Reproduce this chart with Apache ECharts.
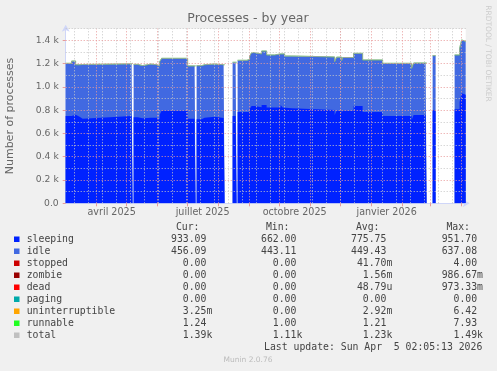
<!DOCTYPE html>
<html><head><meta charset="utf-8">
<script src="https://cdn.jsdelivr.net/npm/echarts@6/dist/echarts.min.js"></script>
<style>html,body{margin:0;padding:0;background:#f0f0f0}#c{width:497px;height:371px}</style>
</head><body><div id="c"></div>
<script>
// ---------- data ----------
const dates = [
 '2025-03-01','2025-03-07','2025-03-11','2025-03-15','2025-03-18','2025-04-14','2025-05-06','2025-05-07',
 '2025-05-08','2025-05-12','2025-05-14','2025-05-17','2025-05-22','2025-05-25','2025-05-31','2025-06-03',
 '2025-06-05','2025-07-01','2025-07-08','2025-07-09',
 '2025-07-10','2025-07-15','2025-07-18','2025-07-28','2025-08-06','2025-08-07',
 '2025-08-15','2025-08-18','2025-08-19',
 '2025-08-20','2025-08-29','2025-09-01','2025-09-03','2025-09-06','2025-09-13','2025-09-18','2025-09-26',
 '2025-10-02','2025-10-04','2025-10-06','2025-10-13','2025-11-25','2025-11-27','2025-12-02','2025-12-03',
 '2025-12-14','2025-12-23','2026-01-12','2026-02-10','2026-02-12','2026-02-24','2026-02-25',
 '2026-03-03','2026-03-05','2026-03-06',
 '2026-03-25','2026-03-30','2026-04-01','2026-04-03','2026-04-05 02:05:13'
];
const sleeping = [
 750,761,744,727,739,750,750,null,
 739,739,730,733,735,735,724,760,
 795,727,727,null,
 721,735,744,733,733,null,
 750,750,null,
 784,784,810,836,824,844,822,822,
 844,822,816,801,758,795,773,795,
 836,785,750,715,758,758,null,
 800,800,null,
 807,870,945,933,933
];
const idle = [
 451,460,445,464,455,447,451,null,
 453,443,452,456,460,454,455,454,
 449,452,452,null,
 460,454,451,456,456,null,
 460,460,null,
 443,450,454,457,458,463,451,460,
 455,460,448,455,457,459,451,456,
 451,445,451,443,446,446,null,
 467,467,null,
 466,459,457,456,456
];
const runnable = [
 1.2,1.2,1.2,1.2,1.2,1.2,1.2,null,
 1.2,1.2,1.2,1.2,1.2,1.2,1.2,1.2,
 1.2,1.2,1.2,null,
 1.2,1.2,1.2,1.2,1.2,null,
 1.2,1.2,null,
 1.2,1.2,1.2,1.2,1.2,1.2,1.2,1.2,
 1.2,1.2,1.2,1.2,1.2,1.2,1.2,1.2,
 1.2,1.2,1.2,1.2,1.2,1.2,null,
 1.2,1.2,null,
 1.2,1.2,1.2,1.2,1.24
];
const xTickDates  = ['2025-04-16','2025-07-16','2025-10-16','2026-01-16'];
const xTickLabels = ['avril 2025','juillet 2025','octobre 2025','janvier 2026'];
const yTickValues = [0,200,400,600,800,1000,1200,1400];
const yTickLabels = ['0.0','0.2 k','0.4 k','0.6 k','0.8 k','1.0 k','1.2 k','1.4 k'];
const rangeStart = '2025-03-01 02:05:13';
const rangeEnd   = '2026-04-05 02:05:13';

const legendNames  = ['sleeping','idle','stopped','zombie','dead','paging','uninterruptible','runnable','total'];
const legendColors = ['#0022ff','#4169e1','#cc0000','#990000','#ff0000','#00aaaa','#ffa500','#22ff22','#c0c0c0'];
const curVals = ['933.09','456.09','0.00','0.00','0.00','0.00','3.25m','1.24','1.39k'];
const minVals = ['662.00','443.11','0.00','0.00','0.00','0.00','0.00','1.00','1.11k'];
const avgVals = ['775.75','449.43','41.70m','1.56m','48.79u','0.00','2.92m','1.21','1.23k'];
const maxVals = ['951.70','637.08','4.00','986.67m','973.33m','0.00','6.42','7.93','1.49k'];
const colHeaders = ['Cur:','Min:','Avg:','Max:'];
const titleText = 'Processes - by year';
const yName = 'Number of processes';
const sideText = 'RRDTOOL / TOBI OETIKER';
const lastUpdate = 'Last update: Sun Apr  5 02:05:13 2026';
const versionText = 'Munin 2.0.76';

// ---------- helpers ----------
function ts(s){
  const m = s.match(/(\d+)-(\d+)-(\d+)(?:[ T](\d+):(\d+)(?::(\d+))?)?/);
  return new Date(+m[1], +m[2]-1, +m[3], +(m[4]||0), +(m[5]||0), +(m[6]||0)).getTime();
}
const X = dates.map(ts);
const pair = arr => arr.map((v,i)=>[X[i], v]);
// cumulative (stacked) tops, drawn back-to-front
const cumIdle = sleeping.map((s,i)=> s==null ? null : s + idle[i]);
const total = sleeping.map((s,i)=> s==null ? null : s + idle[i] + runnable[i]);
const tStart = ts(rangeStart), tEnd = ts(rangeEnd);
const xTickTs = xTickDates.map(ts);

// grid lines: month starts (major), every second monday (minor)
const monthStarts = [];
for (let d = new Date(2025,3,1); d.getTime() <= tEnd; d = new Date(d.getFullYear(), d.getMonth()+1, 1)) monthStarts.push(d.getTime());
const minorDays = [];
for (let d = new Date(2025,2,10); d.getTime() <= tEnd; d = new Date(d.getFullYear(), d.getMonth(), d.getDate()+14)) minorDays.push(d.getTime());
const MAJ = '#e89a9a', MIN = '#c6c6c6';
const gridData = [];
minorDays.forEach(t=>gridData.push({xAxis:t, lineStyle:{color:MIN}}));
monthStarts.forEach(t=>gridData.push({xAxis:t, lineStyle:{color:MAJ}}));
for (let v=100; v<=1500; v+=100) { if (v%200) gridData.push({yAxis:v, lineStyle:{color:MIN}}); else gridData.push({yAxis:v, lineStyle:{color:MAJ}}); }

// ---------- legend table ----------
const FONT = '"DejaVu Sans", sans-serif';
const MONO = '9.8px "DejaVu Sans Mono", monospace';
const CW = 5.9;
const TXT = '#444';
const colEdge = [212.3, 302.3, 392.3, 483];
const hdrEdge = [199.5, 289.5, 379.5, 470];
const cols = [curVals, minVals, avgVals, maxVals];
const graphics = [];
function txt(x,y,text,font,fill,align,extra){
  graphics.push(Object.assign({type:'text', x:x, y:y, silent:true,
    style:{text:text, font:font, fill:fill, align:align, textAlign:align, verticalAlign:'middle', textVerticalAlign:'middle'}}, extra||{}));
}
txt(248, 19, titleText, '12.5px '+FONT, '#666', 'center');
txt(488, 53.5, sideText, '7.5px '+FONT, '#cccccc', 'center', {rotation:-Math.PI/2});
txt(10, 116, yName, '11px '+FONT, '#666', 'center', {rotation:Math.PI/2});
colHeaders.forEach((h,j)=>txt(hdrEdge[j], 227.7, h, MONO, TXT, 'right'));
legendNames.forEach((n,i)=>{
  const y = 239.3 + 12*i;
  graphics.push({type:'rect', silent:true, shape:{x:14, y:y-2.8, width:5.5, height:5.5}, style:{fill:legendColors[i]}});
  txt(26.7, y, n, MONO, TXT, 'left');
  cols.forEach((c,j)=>{
    const s = c[i];
    const hasUnit = /[a-zA-Z]$/.test(s);
    txt(colEdge[j] - (hasUnit?0:CW), y, s, MONO, TXT, 'right');
  });
});
txt(482.3, 347.3, lastUpdate, MONO, TXT, 'right');
txt(248, 359.7, versionText, '7.5px '+FONT, '#bbbbbb', 'center');

// ---------- chart ----------
const chart = echarts.init(document.getElementById('c'), null, {renderer:'canvas'});
const areaSeries = (name, data, color, z) => ({
  name, type:'line', step:'end', data:pair(data), symbol:'none', showSymbol:false,
  connectNulls:false, lineStyle:{width:0, color}, areaStyle:{color, opacity:1, origin:'start'}, z:z, silent:true
});
const lineSeries = (name, data, color, opacity, z) => ({
  name, type:'line', step:'end', data:pair(data), symbol:'none', showSymbol:false, connectNulls:false,
  lineStyle:{width:1, color, opacity}, z:z, silent:true
});
const totalSeries = lineSeries('total', total, '#9c9c9c', 0.85, 3);
totalSeries.markLine = {silent:true, symbol:['none','none'], label:{show:false}, emphasis:{disabled:true}, animation:false, z:5,
  lineStyle:{type:[1,2], width:1}, data:gridData};
chart.setOption({
  animation:false,
  backgroundColor:'#f0f0f0',
  grid:{left:65.7, right:31.3, top:28.65, bottom:167.7, show:true, backgroundColor:'#ffffff', borderWidth:0},
  xAxis:{
    type:'value', min:tStart, max:tEnd, scale:true,
    axisLine:{show:true, lineStyle:{color:'#cfd6f8', width:1}, symbol:['none','arrow'], symbolSize:[6,7], symbolOffset:[0,4]},
    axisTick:{show:true, customValues:monthStarts, length:3, lineStyle:{color:'#e89a9a'}},
    axisLabel:{customValues:xTickTs, formatter:(v)=>{let k=0,b=Infinity;xTickTs.forEach((t,i)=>{if(Math.abs(t-v)<b){b=Math.abs(t-v);k=i;}});return xTickLabels[k];},
      fontSize:9.6, fontFamily:'DejaVu Sans', color:'#666', margin:4, hideOverlap:false},
    splitLine:{show:false}
  },
  yAxis:{
    type:'value', min:0, max:1500, interval:100,
    axisLine:{show:true, lineStyle:{color:'#cfd6f8', width:1}, symbol:['none','arrow'], symbolSize:[6,7], symbolOffset:[0,4]},
    axisTick:{show:true, customValues:yTickValues, length:3, lineStyle:{color:'#e89a9a'}},
    axisLabel:{customValues:yTickValues, formatter:(v)=>yTickLabels[yTickValues.indexOf(v)],
      fontSize:9.2, fontFamily:'DejaVu Sans', color:'#666', margin:7},
    splitLine:{show:false}
  },
  series:[
    areaSeries('idle', cumIdle, '#4169e1', 2),
    areaSeries('sleeping', sleeping, '#0022ff', 2),
    lineSeries('runnable', total, '#22ff22', 0.55, 3),
    totalSeries
  ],
  graphic: graphics
});
</script>
</body></html>
